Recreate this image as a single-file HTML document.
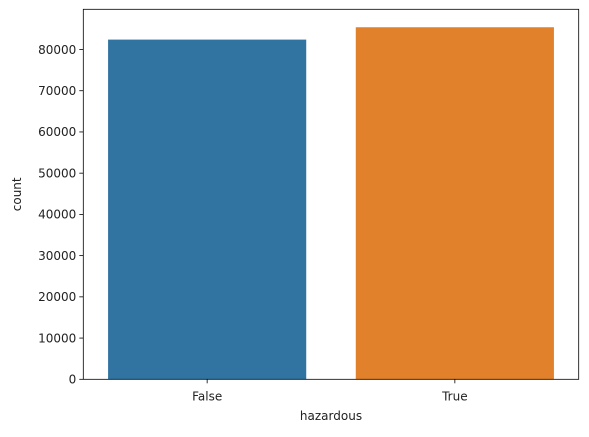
<!DOCTYPE html>
<html><head><meta charset="utf-8"><style>
body{margin:0;background:#fff;font-family:"Liberation Sans","DejaVu Sans",sans-serif;}
</style></head><body>
<svg width="589" height="432" xmlns="http://www.w3.org/2000/svg" font-family="DejaVu Sans, Liberation Sans, sans-serif">
<g id="plot"></g>
</svg>
<script>
const categories=["False","True"];
const counts=[82400,85400];
const colors=["#3274a1","#e1812c"];
const yTicks=[0,10000,20000,30000,40000,50000,60000,70000,80000];
const L=83.3,R=578.7,T=9.3,B=379.3,yMax=89750;
const ns="http://www.w3.org/2000/svg";
const g=document.getElementById('plot');
const y=v=>B-(v/yMax)*(B-T);
const bw=(R-L)/categories.length;
const xc=i=>L+bw*(i+0.5);
function mk(t,a){const e=document.createElementNS(ns,t);for(const k in a)e.setAttribute(k,a[k]);g.appendChild(e);return e;}
categories.forEach((c,i)=>{
 const r=mk('rect',{x:xc(i)-bw*0.4,y:y(counts[i]),width:bw*0.8,height:B-y(counts[i]),fill:colors[i]});
 
 
 const tk=mk('line',{x1:xc(i),x2:xc(i),y1:B,y2:B+4,stroke:'#000','stroke-width':0.8});
 
 
 const t=mk('text',{x:xc(i),y:B+21,'text-anchor':'middle','font-size':12,fill:'#222'});
 t.textContent=c;
 
 
});
yTicks.forEach(v=>{
 const tk=mk('line',{x1:L-4,x2:L,y1:y(v),y2:y(v),stroke:'#000','stroke-width':0.8});
 
 
 const t=mk('text',{x:L-7,y:y(v)+4.3,'text-anchor':'end','font-size':12,fill:'#222'});
 t.textContent=v;
 
 
});
const f=mk('rect',{x:L,y:T,width:R-L,height:B-T,fill:'none',stroke:'#000','stroke-width':0.8});


const xt=mk('text',{x:(L+R)/2,y:420,'text-anchor':'middle','font-size':12,fill:'#222'});
xt.textContent='hazardous';


const yt=mk('text',{x:21,y:(T+B)/2,'text-anchor':'middle','font-size':12,fill:'#222',transform:`rotate(-90 21 ${(T+B)/2})`});
yt.textContent='count';


</script>
</body></html>
